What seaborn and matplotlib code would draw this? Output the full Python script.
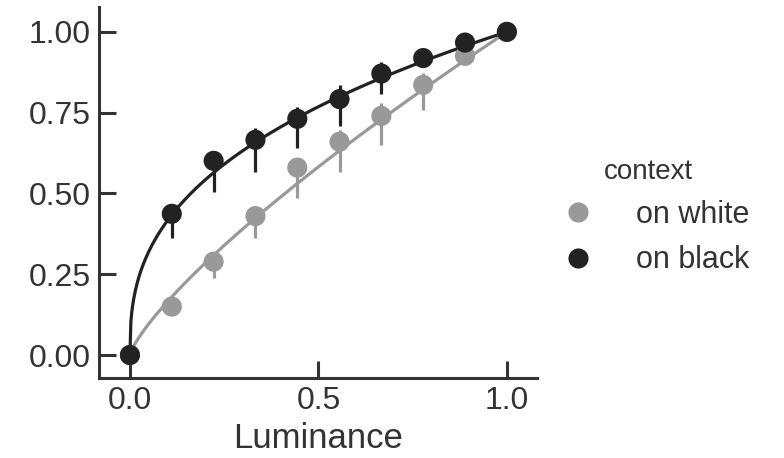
import numpy as np
import pandas as pd
import seaborn as sns
import matplotlib.pyplot as plt

# luminance levels (10 steps)
luminance = [0.0, 0.111, 0.222, 0.333, 0.444, 0.556, 0.667, 0.778, 0.889, 1.0]

# mean perceived lightness per context
on_white = [0.0, 0.150, 0.289, 0.430, 0.580, 0.660, 0.740, 0.836, 0.926, 1.0]
on_black = [0.0, 0.437, 0.601, 0.666, 0.731, 0.792, 0.871, 0.919, 0.967, 1.0]

# error bar ends (low / high)
white_lo = [0.0, 0.14, 0.237, 0.361, 0.485, 0.565, 0.650, 0.759, 0.90, 1.0]
white_hi = [0.0, 0.16, 0.300, 0.440, 0.590, 0.695, 0.779, 0.872, 0.946, 1.0]
black_lo = [0.0, 0.361, 0.506, 0.567, 0.640, 0.709, 0.808, 0.90, 0.95, 1.0]
black_hi = [0.0, 0.450, 0.600, 0.702, 0.769, 0.836, 0.908, 0.93, 0.98, 1.0]

# power-law exponents of the fitted curves
gamma_white = 0.78
gamma_black = 0.38

contexts = ["on white", "on black"]
colors = {"on white": "#999999", "on black": "#222222"}

sns.set_theme(style="ticks")
plt.rcParams['font.family'] = ['Liberation Sans', 'DejaVu Sans']
plt.rcParams['text.color'] = '#333333'
plt.rcParams['axes.labelcolor'] = '#333333'
plt.rcParams['xtick.color'] = '#333333'
plt.rcParams['ytick.color'] = '#333333'
plt.rcParams['axes.edgecolor'] = '#333333'

df = pd.DataFrame({
    "Luminance": luminance * 2,
    "lightness": on_white + on_black,
    "lo": white_lo + black_lo,
    "hi": white_hi + black_hi,
    "context": ["on white"] * 10 + ["on black"] * 10,
})

xs = np.linspace(0, 1, 400)
fits = pd.DataFrame({
    "Luminance": np.concatenate([xs, xs]),
    "lightness": np.concatenate([xs ** gamma_white, xs ** gamma_black]),
    "context": ["on white"] * len(xs) + ["on black"] * len(xs),
})

fig = plt.figure(figsize=(7.84, 4.58), dpi=100)
ax = fig.add_axes([0.1263, 0.1747, 0.5587, 0.81])

for c in contexts:
    sub = df[df.context == c]
    ax.vlines(sub.Luminance, sub.lo, sub.hi, color=colors[c], lw=2.3, zorder=2)
    sns.lineplot(data=fits[fits.context == c], x="Luminance", y="lightness",
                 color=colors[c], lw=2.3, ax=ax, zorder=2)

sns.scatterplot(data=df, x="Luminance", y="lightness", hue="context",
                hue_order=contexts, palette=colors, s=210, linewidth=0,
                ax=ax, zorder=3)

ax.set_xlim(-0.082, 1.08)
ax.set_ylim(-0.071, 1.077)
ax.set_xticks([0.0, 0.5, 1.0])
ax.set_yticks([0.0, 0.25, 0.5, 0.75, 1.0])
ax.set_xlabel("Luminance", fontsize=25)
ax.set_ylabel("")
ax.tick_params(direction="in", length=12, width=2.2, labelsize=23, pad=6)
for s in ["left", "bottom"]:
    ax.spines[s].set_linewidth(2.2)
sns.despine(ax=ax)

leg = ax.legend(title="context", frameon=False, loc="center left",
                bbox_to_anchor=(0.96, 0.434), fontsize=22, title_fontsize=20,
                handletextpad=0.9, labelspacing=0.5, markerscale=1.0)

fig.savefig("out.png", dpi=100)
